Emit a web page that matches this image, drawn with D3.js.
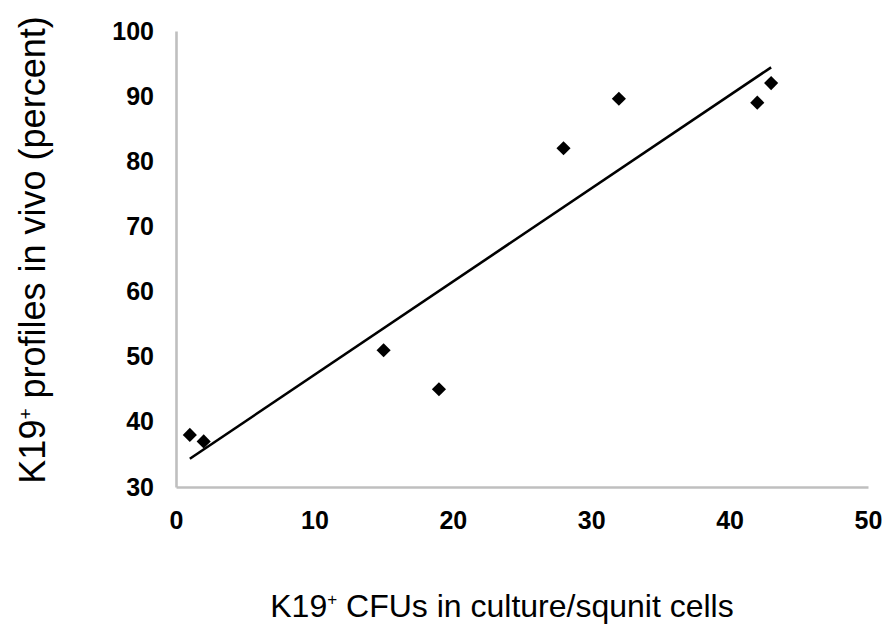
<!DOCTYPE html>
<html>
<head>
<meta charset="utf-8">
<script src="https://cdn.jsdelivr.net/npm/d3@7"></script>
<style>
  body { margin: 0; background: #fff; }
  text { font-family: "Liberation Sans", Arial, sans-serif; }
</style>
</head>
<body>
<div id="chart-area"></div>
<script>
// K19+ CFUs (x) vs K19+ profiles in vivo (y)
var cfus = [1, 2, 15, 19, 28, 32, 42, 43];
var profiles = [38, 37, 51, 45, 82, 89.6, 89, 92];
var xTicks = [0, 10, 20, 30, 40, 50];
var yTicks = [30, 40, 50, 60, 70, 80, 90, 100];

var svg = d3.select("#chart-area").append("svg")
    .attr("width", 887)
    .attr("height", 629);

var x = d3.scaleLinear().domain([0, 50]).range([176, 868]);
var y = d3.scaleLinear().domain([30, 100]).range([487, 31]);

// axes: grey lines, no tick marks
var xAxis = d3.axisBottom(x).tickValues(xTicks).tickSize(0).tickPadding(24);
var yAxis = d3.axisLeft(y).tickValues(yTicks).tickSize(0).tickPadding(22);

var gx = svg.append("g").attr("transform", "translate(0," + y(30) + ")").call(xAxis);
var gy = svg.append("g").attr("transform", "translate(" + x(0) + ",0)").call(yAxis);

[gx, gy].forEach((g) => {
    g.select(".domain").attr("stroke", "#bfbfbf").attr("stroke-width", 2.6);
    g.selectAll("text")
        .attr("fill", "#000")
        .style("font-size", "25px")
        .style("font-weight", "bold")
        .style("font-family", "'Liberation Sans', Arial, sans-serif");
});
gx.selectAll("text").attr("dy", "0.71em");

// linear trend line from least squares fit
var mx = d3.mean(cfus), my = d3.mean(profiles);
var sxy = d3.sum(cfus, (d, i) => (d - mx) * (profiles[i] - my));
var sxx = d3.sum(cfus, (d) => (d - mx) * (d - mx));
var slope = sxy / sxx;
var icpt = my - slope * mx;
var ext = d3.extent(cfus);

svg.append("line")
    .attr("x1", x(ext[0])).attr("y1", y(icpt + slope * ext[0]))
    .attr("x2", x(ext[1])).attr("y2", y(icpt + slope * ext[1]))
    .attr("stroke", "#000")
    .attr("stroke-width", 2.6);

// diamond markers
var diamond = d3.symbol().type(d3.symbolSquare).size(100);
svg.selectAll(".pt").data(cfus)
    .enter()
    .append("path")
        .attr("class", "pt")
        .attr("d", diamond)
        .attr("transform", (d, i) => "translate(" + x(d) + "," + y(profiles[i]) + ") rotate(45)")
        .attr("fill", "#000");

// axis titles
var xt = svg.append("text")
    .attr("x", 502).attr("y", 617)
    .attr("text-anchor", "middle")
    .style("font-size", "32px");
xt.append("tspan").text("K19");
xt.append("tspan").attr("dy", "-12").style("font-size", "17px").text("+");
xt.append("tspan").attr("dy", "12").text(" CFUs in culture/squnit cells");

var yt = svg.append("text")
    .attr("transform", "translate(45,250) rotate(-90)")
    .attr("text-anchor", "middle")
    .style("font-size", "36px");
yt.append("tspan").text("K19");
yt.append("tspan").attr("dy", "-13").style("font-size", "19px").text("+");
yt.append("tspan").attr("dy", "13").text(" profiles in vivo (percent)");
</script>
</body>
</html>
